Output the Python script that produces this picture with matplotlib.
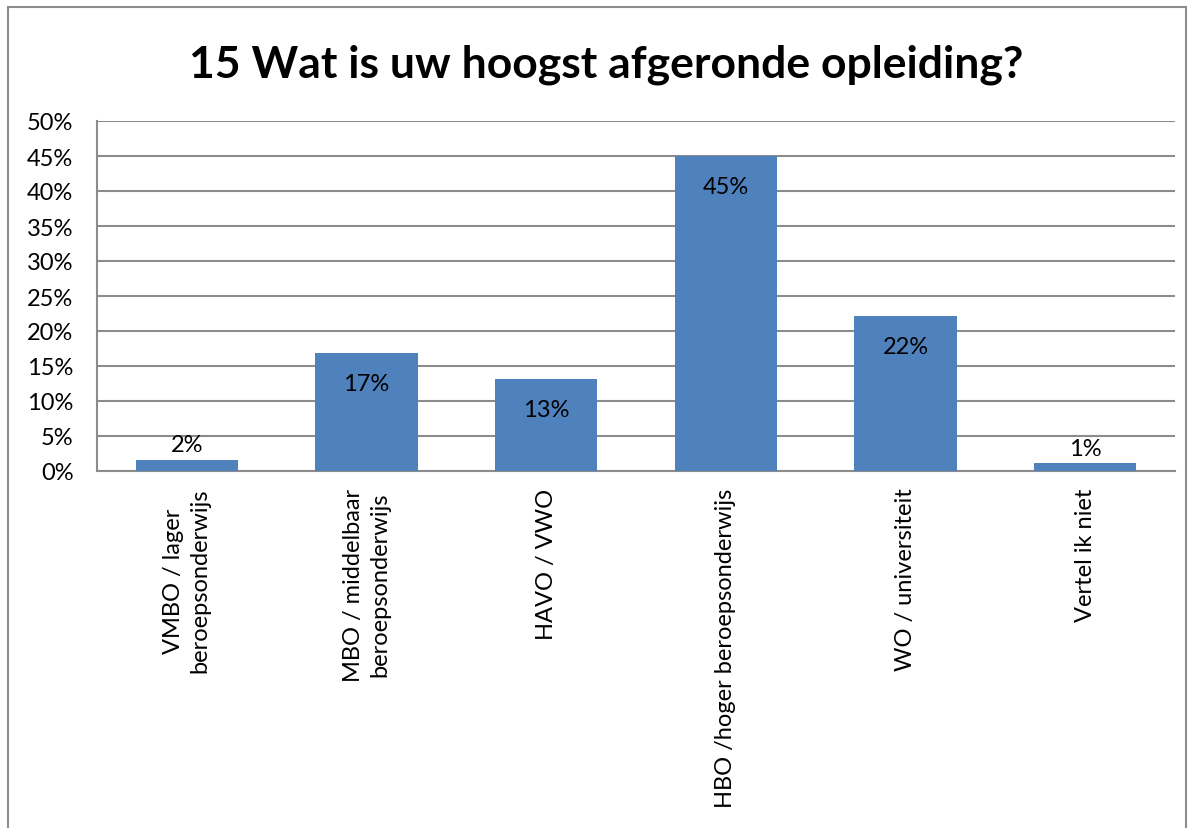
import matplotlib
matplotlib.use('Agg')
import matplotlib.pyplot as plt
from matplotlib.patches import Rectangle

plt.rcParams['font.family'] = ['Lato', 'DejaVu Sans']

# Data
categories = ['VMBO / lager\nberoepsonderwijs', 'MBO / middelbaar\nberoepsonderwijs', 'HAVO / VWO',
              'HBO /hoger beroepsonderwijs', 'WO / universiteit', 'Vertel ik niet']
values = [1.6, 16.9, 13.1, 45.0, 22.1, 1.1]
value_labels = ['2%', '17%', '13%', '45%', '22%', '1%']
yticks = [0, 5, 10, 15, 20, 25, 30, 35, 40, 45, 50]

bar_color = '#4F81BD'
grid_color = '#8C8C8C'

fig = plt.figure(figsize=(11.94, 8.29), dpi=100)
ax = fig.add_axes([97/1194, 1 - 472/829, (1175 - 97)/1194, 350/829])

x = range(len(categories))
bars = ax.bar(x, values, width=0.57, color=bar_color, zorder=3)

# Labels on bars
for xi, v, lab in zip(x, values, value_labels):
    if v > 5:
        ax.annotate(lab, (xi, v), xytext=(0, -22), textcoords='offset points',
                    ha='center', va='center', fontsize=17, color='black', zorder=4)
    else:
        ax.annotate(lab, (xi, v), xytext=(0, 11), textcoords='offset points',
                    ha='center', va='center', fontsize=17, color='black', zorder=4)

ax.set_xlim(-0.5, len(categories) - 0.5)
ax.set_ylim(0, 50)
ax.set_yticks(yticks)
ax.set_yticklabels([f'{t}%' for t in yticks], fontsize=17)
ax.set_xticks(list(x))
ax.set_xticklabels(categories, rotation=90, fontsize=17, ha='center', va='top',
                   multialignment='center', linespacing=1.3)
ax.tick_params(axis='both', length=0)
ax.tick_params(axis='y', pad=17)
ax.tick_params(axis='x', pad=12)

ax.grid(axis='y', color=grid_color, linewidth=1.5, zorder=0)
for s in ['top', 'right']:
    ax.spines[s].set_visible(False)
for s in ['left', 'bottom']:
    ax.spines[s].set_color(grid_color)
    ax.spines[s].set_linewidth(1.5)

fig.suptitle('15 Wat is uw hoogst afgeronde opleiding?', x=606/1194, y=1 - 65/829,
             va='center', fontsize=32, fontweight='bold')

# outer chart border
fig.add_artist(Rectangle((8/1194, -0.05), (1186 - 8)/1194, 1.05 - 8/829,
                         transform=fig.transFigure, fill=False,
                         edgecolor='#8C8C8C', linewidth=1.5))

fig.savefig('out.png', dpi=100)
